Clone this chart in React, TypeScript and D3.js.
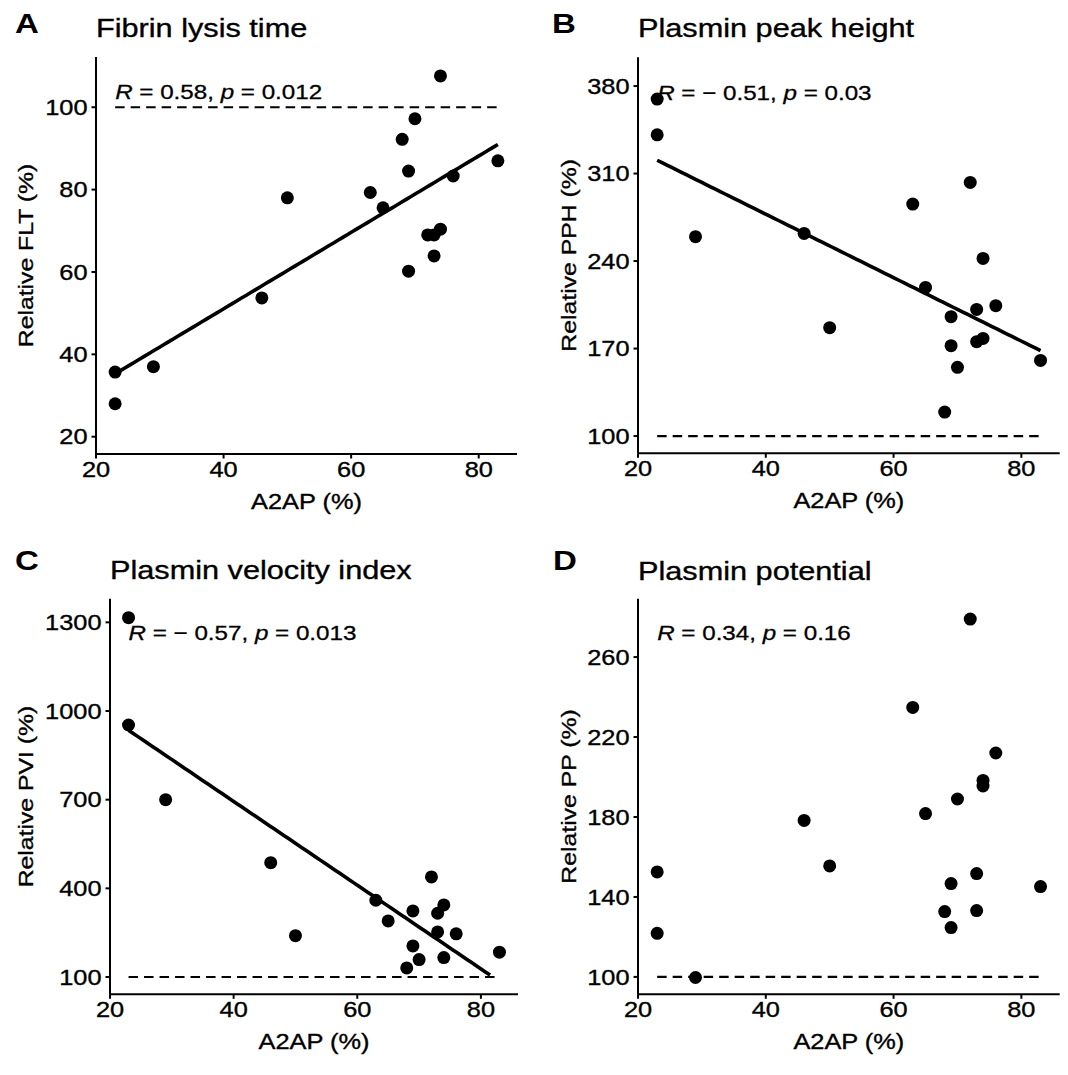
import React from 'react';
import * as d3 from 'd3';

// A2AP (%) for each sample, shared by all four panels
const a2ap = [23, 23, 29, 46, 50, 63, 65, 68, 69, 69, 70, 72, 73, 73, 74, 74, 76, 83];

// relative values (%), same order as a2ap
const flt = [35.7, 28.0, 37.0, 53.7, 78.0, 79.3, 75.6, 92.2, 84.5, 60.2, 97.2, 69.0, 69.0, 63.9, 107.6, 70.4, 83.3, 87.0];
const pph = [369.6, 341, 259.5, 262.1, 186.7, 285.6, 218.9, 119.2, 195.5, 172.3, 155, 302.9, 201.3, 175.5, 242.1, 178.1, 204.3, 160.5];
const pvi = [1315.8, 952.7, 700, 487, 240, 359.7, 289.8, 130.9, 323.7, 205.3, 159, 438.7, 315.8, 252.7, 344, 165.8, 246, 184];
const pp = [152.5, 121.8, 99.7, 178.3, 155.5, 234.8, 181.7, 132.7, 146.7, 124.7, 189, 279, 151.7, 133.2, 198.3, 195.5, 212, 145.2];

const panelLetters = ['A', 'B', 'C', 'D'];
const panelTitles = ['Fibrin lysis time', 'Plasmin peak height', 'Plasmin velocity index', 'Plasmin potential'];
const yLabels = ['Relative FLT (%)', 'Relative PPH (%)', 'Relative PVI (%)', 'Relative PP (%)'];
const yValues = [flt, pph, pvi, pp];
const yTicks = [
  [20, 40, 60, 80, 100],
  [100, 170, 240, 310, 380],
  [100, 400, 700, 1000, 1300],
  [100, 140, 180, 220, 260],
];
const yDomains = [[15.8, 112.2], [86.2, 403], [41.5, 1380], [91.3, 289.2]];
const xTicks = [20, 40, 60, 80];
const xDomain = [20, 86];
const corR = ['0.58', '\u2212 0.51', '\u2212 0.57', '0.34'];
const corP = ['0.012', '0.03', '0.013', '0.16'];
const corPos = [[23, 102], [23, 369], [23, 1239], [23, 268.4]];
const fitLower = [20, 100, 100, null]; // y lower limit; null = no fit line
const refLine = 100;

// layout (px)
const W = 1068;
const H = 1075;
const frames = [
  { l: 96, r: 517, t: 57, b: 454, lx: 15, ly: 33, ty: 37, yt: 33 },
  { l: 638, r: 1059.7, t: 57.3, b: 453.3, lx: 552, ly: 33, ty: 37.3, yt: 576 },
  { l: 110, r: 518, t: 598.7, b: 994.3, lx: 15, ly: 570, ty: 578.7, yt: 33 },
  { l: 638, r: 1059.7, t: 598.7, b: 994.3, lx: 553, ly: 570, ty: 579.7, yt: 576 },
];
const FONT = '"Liberation Sans", Arial, Helvetica, sans-serif';
const SX = 1.18; // glyphs in the figure are wider than Arial

function T({ x, y, size, anchor = 'start', weight = 'normal', rotate = 0, dy = 0, children }) {
  const tr = `translate(${x},${y})${rotate ? ` rotate(${rotate})` : ''} scale(${SX},1)`;
  return (
    <text transform={tr} dy={dy} fontSize={size} fontWeight={weight} textAnchor={anchor}
      fontFamily={FONT} fill="#000" stroke="#000" strokeWidth={weight === 'bold' ? 0 : 0.35}>
      {children}
    </text>
  );
}

function linFit(xs, ys) {
  const mx = d3.mean(xs), my = d3.mean(ys);
  let sxy = 0, sxx = 0;
  xs.forEach((x, i) => { sxy += (x - mx) * (ys[i] - my); sxx += (x - mx) ** 2; });
  const b = sxy / sxx;
  return (x) => my + b * (x - mx);
}

function Panel({ i }) {
  const f = frames[i];
  const ys = yValues[i];
  const x = d3.scaleLinear().domain(xDomain).range([f.l, f.r]);
  const y = d3.scaleLinear().domain(yDomains[i]).range([f.b, f.t]);
  const [xmin, xmax] = d3.extent(a2ap);

  let fitPath = null;
  if (fitLower[i] != null) {
    const fit = linFit(a2ap, ys);
    // like geom_smooth: 80 samples, drop the ones outside the y limits
    const pts = d3.range(80).map(k => xmin + (k * (xmax - xmin)) / 79)
      .map(v => [v, fit(v)])
      .filter(p => p[1] >= fitLower[i]);
    fitPath = d3.line().x(d => x(d[0])).y(d => y(d[1]))(pts);
  }

  return (
    <g>
      <T x={f.lx} y={f.ly} size={28} weight="bold">{panelLetters[i]}</T>
      <T x={f.l} y={f.ty} size={26}>{panelTitles[i]}</T>

      {/* reference line at 100% */}
      <line x1={x(xmin)} x2={x(xmax)} y1={y(refLine)} y2={y(refLine)}
        stroke="#000" strokeWidth={2.2} strokeDasharray="9.5 6" />

      {fitPath && <path d={fitPath} fill="none" stroke="#000" strokeWidth={3.6} />}

      {a2ap.map((v, k) => (
        <circle key={k} cx={x(v)} cy={y(ys[k])} r={6.5} fill="#000" />
      ))}

      <text transform={`translate(${x(corPos[i][0])},${y(corPos[i][1])}) scale(${SX},1)`}
        fontSize={20.5} fontFamily={FONT} fill="#000" stroke="#000" strokeWidth={0.3}>
        <tspan fontStyle="italic">R</tspan>{` = ${corR[i]}, `}
        <tspan fontStyle="italic">p</tspan>{` = ${corP[i]}`}
      </text>

      {/* axes */}
      <line x1={f.l} x2={f.l} y1={f.t} y2={f.b} stroke="#000" strokeWidth={2} />
      <line x1={f.l} x2={f.r} y1={f.b} y2={f.b} stroke="#000" strokeWidth={2} />
      {yTicks[i].map(t => (
        <g key={t}>
          <line x1={f.l - 4.5} x2={f.l} y1={y(t)} y2={y(t)} stroke="#000" strokeWidth={2} />
          <T x={f.l - 8.5} y={y(t)} dy="0.36em" size={21.5} anchor="end">{t}</T>
        </g>
      ))}
      {xTicks.map(t => (
        <g key={t}>
          <line x1={x(t)} x2={x(t)} y1={f.b} y2={f.b + 4.5} stroke="#000" strokeWidth={2} />
          <T x={x(t)} y={f.b + 22.8} size={21.5} anchor="middle">{t}</T>
        </g>
      ))}
      <T x={(f.l + f.r) / 2} y={f.b + 55} size={21.5} anchor="middle">A2AP (%)</T>
      <T x={f.yt} y={(f.t + f.b) / 2} size={21} anchor="middle" rotate={-90}>{yLabels[i]}</T>
    </g>
  );
}

export default function App() {
  return (
    <svg width={W} height={H} style={{ position: 'absolute', left: 0, top: 0, background: '#fff' }}>
      <rect width={W} height={H} fill="#fff" />
      {[0, 1, 2, 3].map(i => <Panel key={i} i={i} />)}
    </svg>
  );
}
